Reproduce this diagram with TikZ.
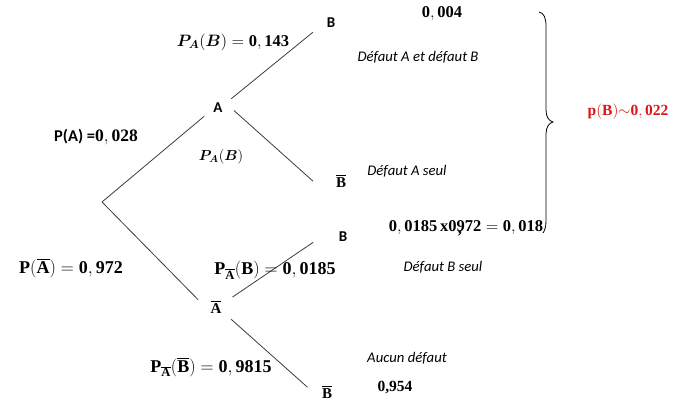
\RequirePackage{fix-cm}
\documentclass[tikz,border=0pt]{standalone}
\usepackage{fontspec}
\usepackage{amsmath}
\setmainfont{Liberation Serif}
\newfontfamily\calsans{Carlito}
\DeclareMathAlphabet{\mathbfit}{OML}{cmm}{b}{it}
\definecolor{redlbl}{RGB}{220,20,20}
\definecolor{branchgray}{RGB}{60,60,60}
\newcommand{\bbar}[1]{\overline{\mathbf{#1}}}
\begin{document}
\begin{tikzpicture}[x=1pt,y=-1pt,
  lbl/.style={inner sep=0pt, font=\fontsize{16.5}{19}\selectfont},
  plbl/.style={inner sep=0pt, font=\fontsize{18}{21}\selectfont},
  itlbl/.style={inner sep=0pt, font=\fontsize{14.5}{17}\selectfont},
  sanslbl/.style={font=\calsans\bfseries\fontsize{15}{17}\selectfont},
  serlbl/.style={font=\fontsize{15}{18}\selectfont},
  note/.style={inner sep=0pt, font=\calsans\itshape\fontsize{14.7}{17}\selectfont},
  vert/.style={circle, inner sep=0pt},
  branch/.style={draw=branchgray, line width=0.8pt},
  bracepath/.style={draw=black, line width=0.8pt}
]
\useasboundingbox (0,0) rectangle (677,402);
% tree vertices
\coordinate (root) at (102,202);
\node[vert, sanslbl, minimum size=32] (A) at (218,108) {A};
\node[vert, serlbl, minimum size=38] (Ab) at (216,307) {$\bbar{A}$};
\node[vert, sanslbl, minimum size=40] (B1) at (331,23) {B};
\node[vert, serlbl, minimum size=56] (B1b) at (341,181) {$\bbar{B}$};
\node[vert, sanslbl, minimum size=60] (B2) at (343,237) {B};
\node[vert, serlbl, minimum size=40] (B2b) at (327,392) {$\bbar{B}$};
% branches
\draw[branch] (root) -- (A.211);
\draw[branch] (root) -- (Ab.158);
\draw[branch] (A.35) -- (B1.207);
\draw[branch] (A.351) -- (B1b.180);
\draw[branch] (Ab.31) -- (B2.190);
\draw[branch] (Ab.321) -- (B2b.166);
% probability labels
\node[inner sep=0pt, font=\fontsize{16.5}{19}\selectfont] (pAB) at (233,42) {$\mathbfit{P}_{\mathbfit{A}}\mathbf{(}\mathbfit{B}\mathbf{)} \mathrel{\mathbf{=}} \mathbf{0,143}$};
\node[inner sep=0pt, font=\fontsize{17.5}{20}\selectfont] (pA) at (96,137) {{\calsans\bfseries\fontsize{16.5}{19}\selectfont P(A) =}$\mathbf{0,028}$};
\node[itlbl] (pABm) at (221,157) {$\mathbfit{P}_{\mathbfit{A}}\mathbf{(}\mathbfit{B}\mathbf{)}$};
\node[plbl] (pAbar) at (71,268) {$\mathbf{P(}\bbar{A}\mathbf{)} \mathrel{\mathbf{=}} \mathbf{0,972}$};
\node[plbl] (pAbB) at (275,270) {$\mathbf{P}_{\bbar{A}}\mathbf{(B)} \mathrel{\mathbf{=}} \mathbf{0,0185}$};
\node[plbl] (pAbBb) at (211,367) {$\mathbf{P}_{\bbar{A}}\mathbf{(}\bbar{B}\mathbf{)} \mathrel{\mathbf{=}} \mathbf{0,9815}$};
% results
\node[lbl] (r1) at (442,14) {$\mathbf{0,004}$};
\node[note] (n1) at (418,57) {Défaut A et défaut B};
\node[note] (n2) at (407,171) {Défaut A seul};
\node[lbl] (calc) at (466,228) {$\mathbf{0,0185\,x0972} \mathrel{\mathbf{=}} \mathbf{0,018}$};
\node[lbl] (calccomma) at (460,234) {\textbf{,}};
\node[note] (n3) at (443,267) {Défaut B seul};
\node[note] (n4) at (407,358) {Aucun défaut};
\node[inner sep=0pt, font=\bfseries\fontsize{15.5}{18}\selectfont] (r4) at (395,388) {0,954};
\node[inner sep=0pt, font=\fontsize{15.5}{18}\selectfont, text=redlbl] (pB) at (628,112) {$\mathbf{p(B)}{\sim}\mathbf{0,022}$};
% brace
\draw[bracepath] (539,12) .. controls (544,13) and (546,18) .. (546,26)
  -- (546,110) .. controls (546,117) and (549,121) .. (553,122)
  .. controls (549,123) and (546,127) .. (546,134)
  -- (546,220) .. controls (546,227) and (545,230) .. (543,233);
\end{tikzpicture}
\end{document}
